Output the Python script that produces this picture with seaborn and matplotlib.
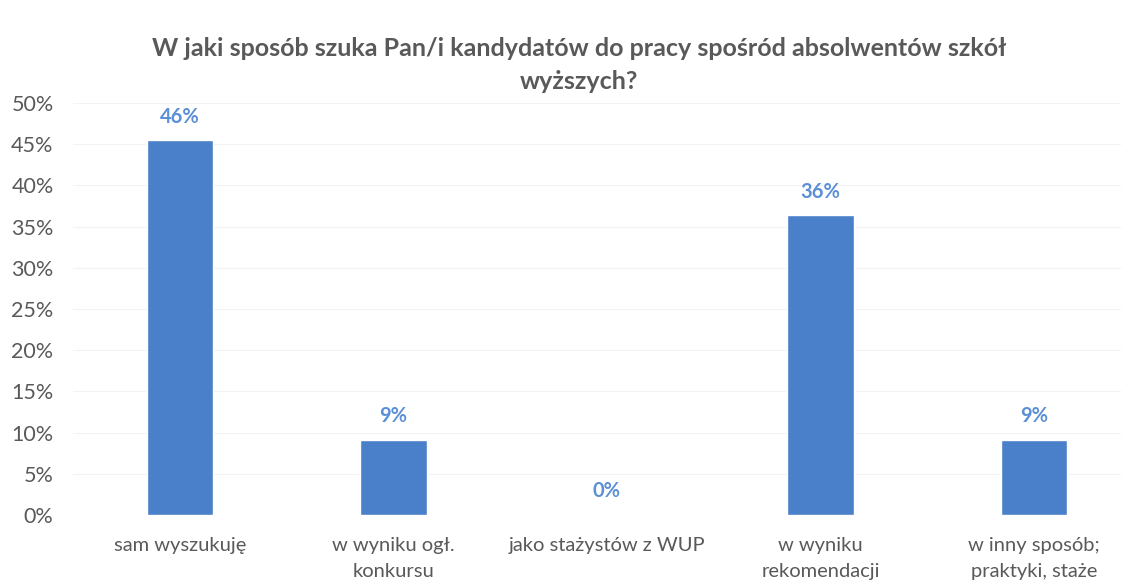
import matplotlib
matplotlib.use("Agg")
import matplotlib.pyplot as plt
import seaborn as sns
import pandas as pd

# ----------------------------- Data -----------------------------
categories = [
    "sam wyszukuję",
    "w wyniku ogł.\nkonkursu",
    "jako stażystów z WUP",
    "w wyniku\nrekomendacji",
    "w inny sposób;\npraktyki, staże",
]
shares = [45.45, 9.09, 0.0, 36.36, 9.09]
value_labels = ["46%", "9%", "0%", "36%", "9%"]
y_ticks = [0, 5, 10, 15, 20, 25, 30, 35, 40, 45, 50]
title = "W jaki sposób szuka Pan/i kandydatów do pracy spośród absolwentów szkół\nwyższych?"

# ----------------------------- Plot -----------------------------
sns.set_theme(style="white")
plt.rcParams["font.family"] = ["Lato", "DejaVu Sans"]

df = pd.DataFrame({"Category": categories, "Share": shares})

fig = plt.figure(figsize=(11.21, 5.83), dpi=100)
ax = fig.add_axes([73 / 1121, 1 - 515 / 583, 1068 / 1121, 412 / 583])

sns.barplot(data=df, x="Category", y="Share", color="#4A7FC9", saturation=1,
            width=0.31, ax=ax, zorder=3)

ax.set_ylim(0, 50)
ax.set_xlim(-0.5, len(categories) - 0.5)
ax.set_yticks(y_ticks)
ax.set_yticklabels([f"{t}%" for t in y_ticks])
ax.yaxis.grid(True, color="#F3F3F3", linewidth=0.8, zorder=0)
ax.set_xlabel("")
ax.set_ylabel("")
for side in ["top", "right", "left", "bottom"]:
    ax.spines[side].set_visible(False)

ax.tick_params(axis="y", length=0, pad=14, labelsize=15.5, labelcolor="#595959")
ax.tick_params(axis="x", length=0, pad=16, labelsize=14.5, labelcolor="#595959")
for lbl in ax.get_xticklabels():
    lbl.set_linespacing(1.6)

ax.bar_label(ax.containers[0], labels=value_labels, padding=10,
             fontsize=14.5, fontweight="bold", color="#5B8FD6")

fig.text(579 / 1121, 1 - 65 / 583, title, ha="center", va="center",
         fontsize=18, fontweight="bold", color="#595959", linespacing=1.5)

fig.savefig("out.png", dpi=100, facecolor="white")
plt.close(fig)
